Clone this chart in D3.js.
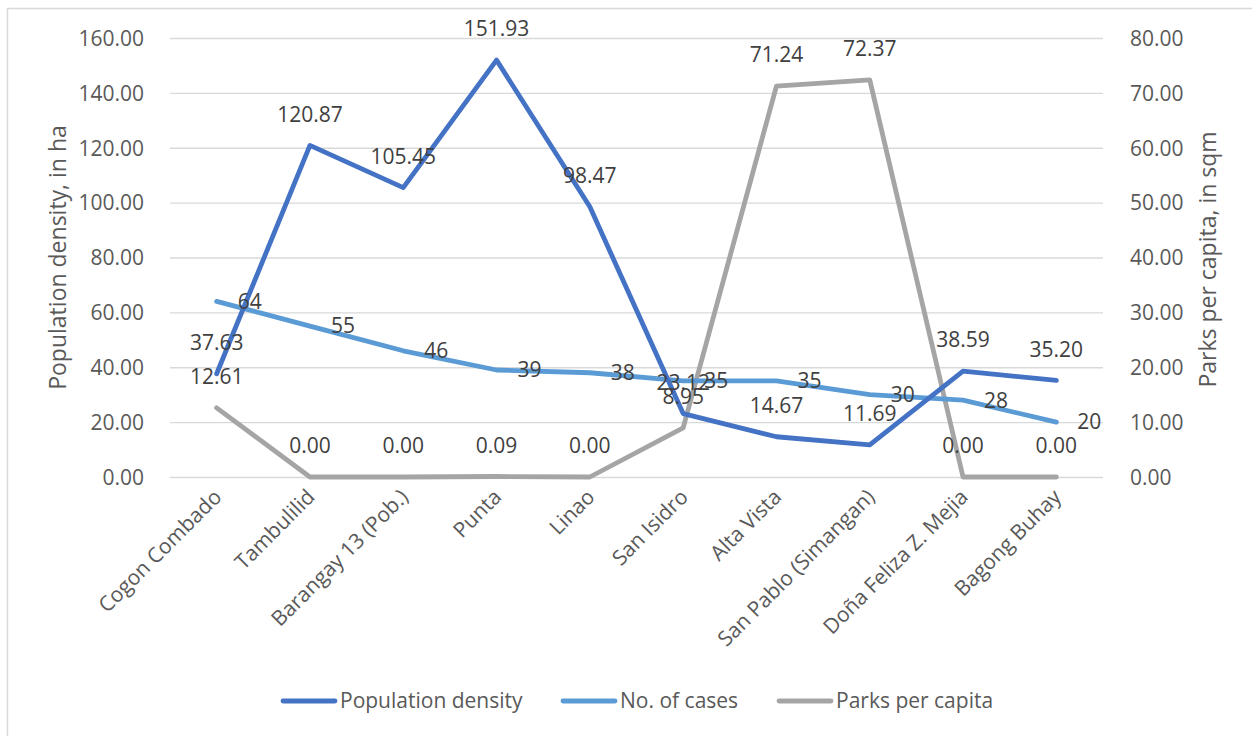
<!DOCTYPE html>
<html>
<head>
<meta charset="utf-8">
<script src="https://cdn.jsdelivr.net/npm/d3@7"></script>
<style>
  html, body { margin: 0; padding: 0; background: #fff; }
  svg { display: block; font-family: "Open Sans", "Noto Sans", sans-serif; }
</style>
</head>
<body>
<svg id="chart" width="1252" height="736"></svg>
<script>
// Barangay names along the x axis
const categories = [
  "Cogon Combado", "Tambulilid", "Barangay 13 (Pob.)", "Punta", "Linao",
  "San Isidro", "Alta Vista", "San Pablo (Simangan)", "Doña Feliza Z. Mejia", "Bagong Buhay"
];
// Population density (left axis)
const populationDensity = [37.63, 120.87, 105.45, 151.93, 98.47, 23.12, 14.67, 11.69, 38.59, 35.20];
// Number of cases (left axis)
const cases = [64, 55, 46, 39, 38, 35, 35, 30, 28, 20];
// Parks per capita (right axis)
const parksPerCapita = [12.61, 0.00, 0.00, 0.09, 0.00, 8.95, 71.24, 72.37, 0.00, 0.00];

const leftTicks = [0, 20, 40, 60, 80, 100, 120, 140, 160];
const rightTicks = [0, 10, 20, 30, 40, 50, 60, 70, 80];

const svg = d3.select("#chart");
const plot = { left: 170, right: 1103, top: 38, bottom: 477 };
const FS = 21;

// Chart border
svg.append("rect")
  .attr("x", 7.5).attr("y", 8.5)
  .attr("width", 1260).attr("height", 740)
  .attr("fill", "none").attr("stroke", "#d9d9d9").attr("stroke-width", 1.5);

const x = d3.scaleBand().domain(categories).range([plot.left, plot.right]);
const cx = d => x(d) + x.bandwidth() / 2;
const yL = d3.scaleLinear().domain([0, 160]).range([plot.bottom, plot.top]);
const yR = d3.scaleLinear().domain([0, 80]).range([plot.bottom, plot.top]);

// Gridlines
svg.append("g")
  .attr("transform", `translate(${plot.left},0)`)
  .call(d3.axisLeft(yL).tickValues(leftTicks).tickSize(-(plot.right - plot.left)).tickFormat(""))
  .call(g => g.select(".domain").remove())
  .call(g => g.selectAll("line").attr("stroke", "#d9d9d9").attr("stroke-width", 1.3));

// Left axis labels
svg.append("g")
  .attr("transform", `translate(${plot.left - 23},0)`)
  .call(d3.axisLeft(yL).tickValues(leftTicks).tickSize(0).tickFormat(d3.format(".2f")))
  .call(g => g.select(".domain").remove())
  .call(g => g.selectAll("text")
    .attr("fill", "#595959").attr("font-size", FS).attr("font-family", "Open Sans").attr("dy", "0.35em"));

// Right axis labels
svg.append("g")
  .attr("transform", `translate(${plot.right + 24},0)`)
  .call(d3.axisRight(yR).tickValues(rightTicks).tickSize(0).tickFormat(d3.format(".2f")))
  .call(g => g.select(".domain").remove())
  .call(g => g.selectAll("text")
    .attr("fill", "#595959").attr("font-size", FS).attr("font-family", "Open Sans").attr("dy", "0.35em"));

// Category labels
svg.append("g")
  .attr("transform", `translate(0,${plot.bottom})`)
  .call(d3.axisBottom(x).tickSize(0).tickFormat(d => d))
  .call(g => g.select(".domain").remove())
  .call(g => g.selectAll("text")
    .attr("fill", "#595959").attr("font-size", FS).attr("font-family", "Open Sans")
    .attr("text-anchor", "end")
    .attr("transform", "translate(1,16) rotate(-45)")
    .attr("dy", "0.35em").attr("y", 0));

// Axis titles
svg.append("text")
  .attr("transform", `translate(58,${(plot.top + plot.bottom) / 2}) rotate(-90)`)
  .attr("text-anchor", "middle").attr("dy", "0.35em")
  .attr("fill", "#595959").attr("font-size", 23)
  .text("Population density, in ha");
svg.append("text")
  .attr("transform", `translate(1208,${(plot.top + plot.bottom) / 2 + 2}) rotate(-90)`)
  .attr("text-anchor", "middle").attr("dy", "0.35em")
  .attr("fill", "#595959").attr("font-size", 23)
  .text("Parks per capita, in sqm");

const series = [
  { name: "Population density", values: populationDensity, y: yL, color: "#4472c4", fmt: d3.format(".2f"), pos: "above" },
  { name: "No. of cases", values: cases, y: yL, color: "#5b9bd5", fmt: d3.format("d"), pos: "right" },
  { name: "Parks per capita", values: parksPerCapita, y: yR, color: "#a5a5a5", fmt: d3.format(".2f"), pos: "above" }
];

// Lines: parks first, then cases, density on top
[2, 1, 0].forEach(i => {
  const s = series[i];
  const line = d3.line().x((d, j) => cx(categories[j])).y(d => s.y(d));
  svg.append("path")
    .datum(s.values)
    .attr("d", line)
    .attr("fill", "none")
    .attr("stroke", s.color)
    .attr("stroke-width", 4.8)
    .attr("stroke-linejoin", "round")
    .attr("stroke-linecap", "round");
});

// Data labels
series.forEach(s => {
  svg.append("g").selectAll("text")
    .data(s.values)
    .join("text")
    .attr("x", (d, j) => s.pos === "right" ? cx(categories[j]) + 21 : cx(categories[j]))
    .attr("y", d => s.pos === "right" ? s.y(d) : s.y(d) - 31)
    .attr("dy", "0.35em")
    .attr("text-anchor", s.pos === "right" ? "start" : "middle")
    .attr("fill", "#404040").attr("font-size", FS)
    .text(d => s.fmt(d));
});

// Legend
const legendItems = [
  { s: series[0], x: 283 },
  { s: series[1], x: 563 },
  { s: series[2], x: 779 }
];
const lg = svg.append("g");
legendItems.forEach(it => {
  lg.append("line")
    .attr("x1", it.x).attr("x2", it.x + 52)
    .attr("y1", 701).attr("y2", 701)
    .attr("stroke", it.s.color).attr("stroke-width", 4.8).attr("stroke-linecap", "round");
  lg.append("text")
    .attr("x", it.x + 57).attr("y", 701).attr("dy", "0.35em")
    .attr("fill", "#595959").attr("font-size", FS)
    .text(it.s.name);
});
</script>
</body>
</html>
